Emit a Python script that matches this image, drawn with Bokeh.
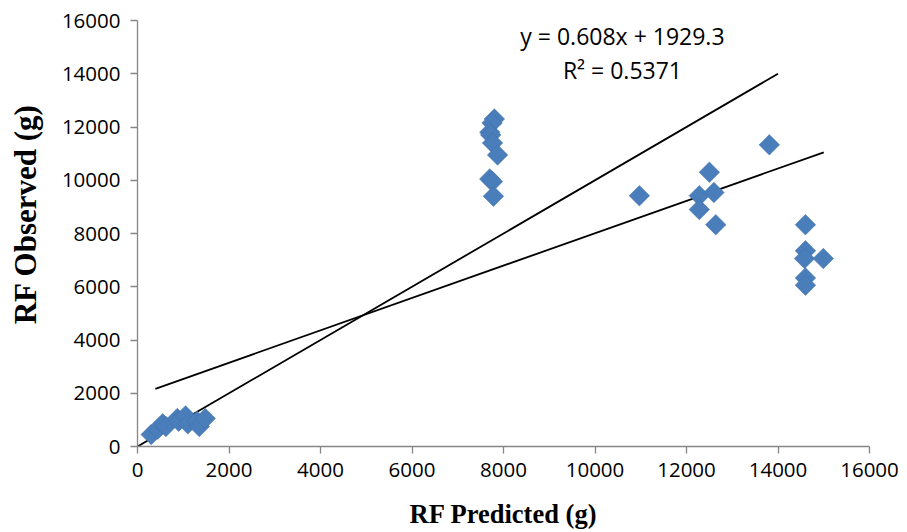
import numpy as np
from bokeh.plotting import figure
from bokeh.models import Range1d, Label, FixedTicker
from bokeh.embed import file_html
from bokeh.resources import INLINE

# Data
pred_low = [300, 440, 550, 620, 870, 900, 1050, 1100, 1300, 1350, 1480]
obs_low = [450, 650, 850, 750, 1050, 950, 1150, 850, 950, 750, 1050]
pred_mid = [7800, 7750, 7700, 7720, 7760, 7870, 7700, 7760, 7780]
obs_mid = [12300, 12150, 11800, 11700, 11400, 10950, 10050, 9950, 9400]
pred_right = [10970, 12280, 12280, 12500, 12600, 12640, 13810,
              14600, 14600, 14580, 14990, 14600, 14600]
obs_right = [9420, 9420, 8900, 10300, 9540, 8330, 11330,
             8330, 7350, 7060, 7060, 6330, 6060]

predicted = pred_low + pred_mid + pred_right
observed = obs_low + obs_mid + obs_right

slope = 0.608
intercept = 1929.3
r2 = 0.5371
trend_x = [390, 15000]
one_x = [0, 14000]
ticks = list(range(0, 16001, 2000))
x_title = "RF Predicted (g)"
y_title = "RF Observed (g)"

p = figure(width=907, height=532, output_backend="svg", toolbar_location=None,
           x_range=Range1d(0, 16000), y_range=Range1d(0, 16000),
           min_border_left=137, min_border_right=38, min_border_top=20,
           min_border_bottom=86)
p.outline_line_color = None
p.xgrid.grid_line_color = None
p.ygrid.grid_line_color = None

p.line(one_x, one_x, line_color="black", line_width=1.8)
p.line(trend_x, [slope * v + intercept for v in trend_x], line_color="black", line_width=1.8)
p.scatter(predicted, observed, marker="square", size=14.5, angle=np.pi / 4,
          fill_color="#4A7EBB", line_color="#3F6FA8", line_width=0.5)

for ax in (p.xaxis[0], p.yaxis[0]):
    ax.ticker = FixedTicker(ticks=ticks)
    ax.axis_line_color = "#868686"
    ax.axis_line_width = 1.3
    ax.major_tick_line_color = "#868686"
    ax.major_tick_line_width = 1.3
    ax.major_tick_out = 7
    ax.major_tick_in = 0
    ax.minor_tick_line_color = None
    ax.major_label_text_font = "Open Sans"
    ax.major_label_text_font_size = "20.5px"
    ax.major_label_text_color = "black"
    ax.axis_label_text_font = "Liberation Serif"
    ax.axis_label_text_font_style = "bold"
    ax.axis_label_text_color = "black"

# leading no-break spaces nudge the rotated title upward like the reference
p.xaxis.axis_label = x_title
p.yaxis.axis_label = "\u00a0" * 5 + y_title
p.xaxis.axis_label_text_font_size = "26.5px"
p.yaxis.axis_label_text_font_size = "31px"
p.xaxis.major_label_standoff = 9
p.yaxis.major_label_standoff = 10
p.xaxis.axis_label_standoff = 19
p.yaxis.axis_label_standoff = 16

p.add_layout(Label(x=10600, y=15400, text=f"y = {slope}x + {intercept}",
                   text_align="center", text_baseline="middle",
                   text_font="Open Sans", text_font_size="23px", text_color="black"))
p.add_layout(Label(x=10600, y=14130, text=f"R² = {r2}",
                   text_align="center", text_baseline="middle",
                   text_font="Open Sans", text_font_size="23px", text_color="black"))

open("out.html", "w").write(file_html(p, INLINE))
